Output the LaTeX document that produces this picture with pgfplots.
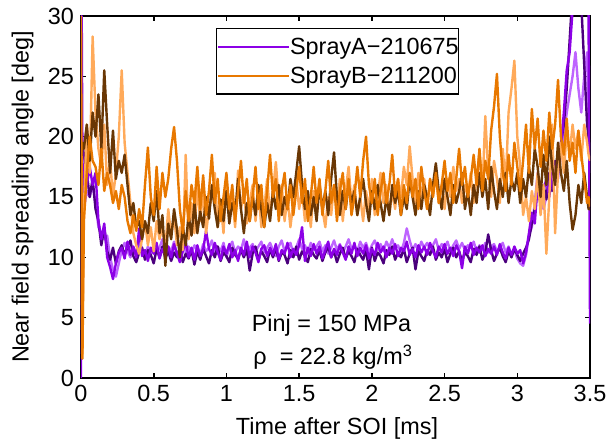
\documentclass[border=0pt]{standalone}
\usepackage{fontspec}
\setmainfont{Liberation Sans}
\usepackage{pgfplots}
\pgfplotsset{compat=1.18}
\usepackage{pgfplotstable}
\definecolor{pdark}{RGB}{75,0,125}
\definecolor{pmid}{RGB}{140,0,230}
\definecolor{plight}{RGB}{190,100,255}
\definecolor{odark}{RGB}{105,55,5}
\definecolor{omid}{RGB}{232,120,0}
\definecolor{olight}{RGB}{255,170,90}
\newcommand{\chartfont}{\fontsize{11.75}{14}\selectfont}

% t  a1 (dark purple)  a2 (purple)  a3 (light purple)  b1 (brown)  b2 (orange)  b3 (light orange)
\pgfplotstableread{
t a1 a2 a3 b1 b2 b3
0.000 5.0 0.0 2.0 10.0 30.0 17.0
0.005 19.0 30.0 13.0 18.0 15.0 8.0
0.010 19.5 18.0 14.0 19.5 1.6 2.0
0.02 18.5 15.0 14.0 19.0 13.0 14.0
0.04 17.0 16.0 15.5 21.0 17.0 21.0
0.06 15.0 17.5 15.0 18.0 20.0 17.0
0.08 16.5 16.0 16.0 22.0 18.0 28.3
0.10 14.0 17.0 14.5 20.0 17.5 22.0
0.12 13.0 13.0 12.5 23.5 16.0 19.0
0.14 11.0 11.5 12.0 19.0 19.0 17.5
0.16 12.5 12.8 11.5 25.5 15.5 21.0
0.18 10.5 10.0 11.8 21.0 17.0 16.0
0.20 9.8 9.2 10.0 17.0 16.0 18.0
0.22 10.8 8.2 9.0 20.5 14.5 15.0
0.24 9.5 9.5 8.4 16.5 15.5 17.0
0.26 10.5 10.4 9.5 18.0 14.0 20.0
0.28 11.0 10.8 10.6 17.0 16.0 25.5
0.30 10.2 9.9 11.2 18.5 15.0 19.5
0.32 10.9 11.3 10.5 16.0 13.0 17.0
0.34 11.4 10.2 10.0 13.5 12.0 14.5
0.36 10.1 10.9 10.8 14.5 13.5 12.0
0.38 9.6 10.0 10.2 12.5 12.2 11.0
0.40 10.4 12.4 11.4 13.0 14.0 10.3
0.42 10.8 10.1 10.6 11.5 12.5 11.5
0.44 9.8 10.6 10.0 13.0 16.0 13.0
0.46 10.6 9.7 10.9 12.0 19.1 11.0
0.48 10.2 10.8 10.3 14.5 15.0 12.5
0.50 9.5 10.3 11.0 13.0 13.5 10.5
0.52 10.7 11.2 10.4 15.5 17.5 13.0
0.54 10.0 9.9 10.8 12.0 14.0 11.5
0.56 10.9 10.7 11.5 13.5 17.0 12.5
0.58 9.9 10.2 10.2 9.3 15.0 10.8
0.60 10.5 10.9 10.9 12.8 16.5 14.0
0.62 9.7 10.0 10.5 11.5 19.0 11.8
0.64 10.4 11.1 11.3 14.0 20.8 13.5
0.66 10.0 10.3 10.1 12.3 18.0 11.0
0.68 10.8 9.6 10.7 10.0 14.0 12.5
0.70 9.6 10.5 12.3 12.5 12.0 10.6
0.72 10.3 11.3 10.4 11.0 15.5 18.5
0.74 9.9 10.0 10.9 13.5 13.0 11.5
0.76 10.6 10.8 10.3 11.8 16.0 14.5
0.78 9.4 9.8 11.0 14.5 14.5 12.0
0.80 10.5 11.0 10.6 12.0 17.5 16.0
0.82 9.8 10.1 10.2 13.8 14.0 13.0
0.84 10.7 10.6 11.1 12.5 16.8 15.5
0.86 10.1 12.2 10.5 15.0 13.5 12.0
0.88 9.5 10.7 10.8 13.2 15.5 14.0
0.90 10.6 10.2 11.4 16.0 18.5 15.0
0.92 10.0 11.2 10.3 14.0 14.5 17.0
0.94 10.9 10.4 10.9 12.5 16.5 12.5
0.96 9.7 9.8 10.5 14.8 13.0 14.5
0.98 10.4 10.9 11.2 13.0 15.0 12.0
1.00 10.1 10.3 10.0 15.5 17.0 16.5
1.02 9.6 11.1 10.8 12.8 14.0 13.5
1.04 10.8 10.0 11.3 14.5 16.0 15.0
1.06 10.2 10.6 10.4 13.5 13.0 12.5
1.08 9.9 9.7 10.9 16.5 15.5 17.2
1.10 10.6 10.8 10.6 14.0 18.0 14.0
1.12 10.0 10.2 11.5 12.0 14.5 15.5
1.14 10.7 11.3 10.2 14.5 16.5 12.8
1.16 8.9 10.0 10.8 13.0 13.0 14.5
1.18 10.3 10.9 11.1 15.0 15.0 16.0
1.20 10.9 10.4 10.5 13.5 17.5 13.0
1.22 9.8 9.6 10.9 16.0 14.0 15.5
1.24 10.5 10.7 11.3 14.0 16.0 12.5
1.26 10.1 11.0 10.4 12.5 12.5 14.0
1.28 9.6 10.1 10.8 14.5 15.5 16.5
1.30 10.7 10.8 11.2 13.0 18.5 13.5
1.32 10.0 10.2 10.6 15.5 15.0 15.5
1.34 10.8 11.1 10.1 14.0 16.5 17.9
1.36 9.7 9.8 10.9 16.0 13.0 14.5
1.38 10.4 10.6 11.4 13.5 15.5 16.0
1.40 10.2 10.3 10.5 15.0 17.0 13.0
1.42 9.5 11.2 10.9 14.0 14.0 15.0
1.44 10.6 10.0 11.2 16.5 16.0 12.5
1.46 10.0 10.7 10.3 15.0 13.5 14.5
1.48 10.9 10.2 10.8 17.0 15.5 16.5
1.50 9.8 11.0 11.5 19.2 17.5 14.0
1.52 10.5 12.5 10.7 16.0 14.5 15.5
1.54 10.1 9.7 11.0 14.0 16.5 13.0
1.56 9.6 10.8 10.4 15.5 13.0 14.8
1.58 10.7 10.1 11.2 13.5 15.0 12.5
1.60 10.2 11.1 10.6 15.0 17.5 15.5
1.62 9.9 10.3 10.9 13.0 14.5 13.5
1.64 10.6 10.9 11.3 16.0 16.5 16.0
1.66 9.7 9.9 10.5 14.0 13.5 14.0
1.68 10.4 10.6 11.0 15.5 15.5 12.5
1.70 10.9 11.3 10.3 13.5 18.0 15.0
1.72 10.0 10.0 10.8 16.5 14.5 13.5
1.74 10.5 10.7 11.4 18.7 16.0 16.0
1.76 9.6 10.2 10.6 15.0 13.0 14.0
1.78 10.3 11.0 11.1 13.5 15.5 16.5
1.80 10.8 10.4 10.4 15.5 17.0 13.0
1.82 9.9 9.8 10.9 14.0 14.0 15.5
1.84 10.5 10.9 11.5 16.0 16.5 17.5
1.86 10.1 10.3 10.7 14.5 13.5 14.5
1.88 9.6 11.2 11.0 15.5 15.0 16.0
1.90 10.7 10.1 10.5 13.5 17.5 13.5
1.92 10.2 10.8 11.3 15.0 15.0 15.0
1.94 9.8 10.3 10.8 16.5 18.0 13.0
1.96 10.6 11.0 11.2 14.5 20.0 15.5
1.98 9.0 9.9 10.4 13.0 16.0 14.0
2.00 10.8 10.7 11.0 15.5 14.5 16.5
2.02 9.7 10.2 11.4 14.0 16.5 13.5
2.04 10.4 11.2 10.6 16.0 13.5 15.0
2.06 10.1 10.4 11.1 14.5 15.5 17.0
2.08 9.5 10.9 10.5 13.0 17.0 14.5
2.10 10.6 10.0 11.3 15.0 14.5 16.0
2.12 10.2 10.8 10.8 13.5 16.0 13.5
2.14 10.9 10.3 11.5 16.0 18.5 15.5
2.16 9.8 11.1 10.7 14.5 15.0 14.0
2.18 10.4 10.1 11.0 15.5 16.5 16.5
2.20 10.0 10.8 10.4 13.5 13.5 15.0
2.22 10.7 10.5 11.2 15.0 16.0 17.5
2.24 9.6 11.3 12.4 14.0 14.5 16.0
2.26 10.3 10.2 11.4 16.5 17.0 19.2
2.28 10.8 10.7 10.6 15.0 15.0 16.5
2.30 9.0 10.0 11.1 13.5 16.5 14.5
2.32 10.5 11.0 10.5 15.5 14.0 17.0
2.34 10.1 10.4 11.3 14.0 17.5 15.0
2.36 9.7 10.9 10.8 16.0 15.5 16.5
2.38 10.6 10.2 11.2 15.0 14.0 14.0
2.40 10.2 11.2 10.7 13.5 16.5 16.5
2.42 10.9 10.5 11.0 16.0 15.0 15.0
2.44 9.8 10.0 11.5 17.8 17.0 17.0
2.46 10.4 10.9 10.6 15.5 14.5 14.5
2.48 10.0 10.4 11.1 14.0 16.0 16.0
2.50 10.7 11.1 10.8 16.5 18.0 14.0
2.52 9.6 10.3 11.3 15.0 15.5 16.5
2.54 10.3 10.8 10.5 13.5 17.0 15.0
2.56 10.8 10.1 11.0 16.0 14.5 17.5
2.58 10.0 11.0 11.4 14.5 16.5 15.5
2.60 10.5 10.5 10.7 15.5 19.0 16.5
2.62 9.7 9.1 11.2 17.0 16.0 14.5
2.64 10.4 10.9 10.6 14.0 17.5 16.0
2.66 10.1 10.3 11.0 15.5 15.0 15.0
2.68 9.6 11.2 10.8 13.5 16.5 17.0
2.70 10.7 10.2 11.3 16.0 18.5 14.5
2.72 10.2 10.8 10.5 14.5 16.0 16.5
2.74 10.9 10.4 11.0 17.0 19.0 18.8
2.76 9.8 11.0 10.6 15.0 15.5 15.5
2.78 10.4 10.1 11.2 16.5 18.0 21.7
2.80 11.9 10.7 10.4 14.0 16.5 17.0
2.82 10.6 10.3 10.9 17.5 20.5 15.0
2.84 9.7 10.9 11.1 15.5 22.5 18.0
2.86 10.3 10.2 10.5 14.0 25.2 16.5
2.88 10.8 11.1 10.8 16.5 20.0 14.5
2.90 10.1 10.4 11.2 15.0 17.0 19.0
2.92 9.6 9.9 10.4 17.0 15.5 16.0
2.94 10.5 10.8 10.9 14.5 18.5 22.0
2.96 10.0 10.2 10.2 16.5 16.0 24.0
2.98 10.7 10.9 10.6 15.5 19.5 26.3
3.00 10.2 10.3 9.9 17.0 17.5 20.0
3.02 9.7 10.6 9.5 14.5 15.5 17.5
3.04 10.3 9.5 9.3 16.5 18.0 13.5
3.06 10.8 10.4 10.2 15.0 21.0 15.0
3.08 11.5 12.0 11.8 17.5 17.0 13.0
3.10 12.8 13.7 12.5 16.0 22.3 15.5
3.12 14.0 12.8 14.5 19.0 19.0 14.0
3.14 15.5 16.0 17.0 17.5 21.5 17.0
3.16 14.5 14.8 15.5 15.0 17.5 13.5
3.18 16.0 15.5 14.0 18.5 20.5 16.0
3.20 14.8 16.5 15.0 16.0 18.0 10.3
3.22 17.0 15.0 16.5 20.0 22.0 15.0
3.24 15.5 17.0 18.0 17.5 19.0 21.0
3.26 18.0 16.5 17.5 16.0 21.0 12.0
3.28 17.0 18.5 16.5 19.5 24.7 17.0
3.30 19.5 19.0 18.5 17.0 20.0 19.5
3.32 21.0 22.0 20.0 15.5 18.5 17.0
3.34 24.0 25.5 22.0 18.0 21.5 20.5
3.36 28.0 27.0 23.5 14.5 18.0 18.5
3.38 32.0 30.5 25.0 12.3 19.5 21.0
3.40 34.0 33.0 27.0 13.5 17.0 19.0
3.42 33.0 31.0 24.0 16.0 20.5 20.5
3.44 31.0 34.0 22.0 14.5 18.5 18.0
3.46 26.0 33.0 25.0 17.0 16.5 21.0
3.48 21.0 32.0 27.0 15.0 14.5 19.5
3.49 20.0 30.0 20.0 14.0 15.0 18.5
3.50 19.0 4.5 17.0 14.0 14.2 18.0
}\spraydata

\begin{document}
\begin{tikzpicture}
\begin{axis}[
    scale only axis,
    width=254.5bp, height=181bp,
    xmin=0, xmax=3.5,
    ymin=0, ymax=30,
    xtick={0,0.5,1,1.5,2,2.5,3,3.5},
    ytick={0,5,10,15,20,25,30},
    tick align=inside,
    major tick length=2.5bp,
    axis line style={line width=1.1bp},
    tick style={line width=0.8bp, black},
    font=\chartfont,
    tick label style={font=\chartfont},
    /pgf/number format/assume math mode=true,
    xlabel={Time after SOI [ms]},
    ylabel={Near field spreading angle [deg]},
    xlabel style={at={(axis description cs:0.503,-0.1547)}, anchor=base},
    ylabel style={at={(axis description cs:-0.1149,0.5)}, anchor=center},
    every axis plot/.append style={line width=1.2bp, line join=round},
    legend style={
        at={(0.2652,0.9669)}, anchor=north west,
        draw=black, line width=0.7bp,
        font=\chartfont,
        inner xsep=0bp, inner ysep=2.3bp,
        row sep=1bp,
        nodes={inner sep=0bp, text height=10.5bp, text depth=3bp},
    },
    legend cell align=left,
    legend image code/.code={
        \path (0bp,0bp) -- (35.5bp,0bp);
        \draw[#1] (5bp,0bp) -- (28bp,0bp);
    },
]
\addlegendimage{pmid, line width=1.2bp}
\addlegendentry{SprayA−210675\hspace{0.5bp}}
\addlegendimage{omid, line width=1.2bp}
\addlegendentry{SprayB−211200\hspace{0.5bp}}

\addplot[plight, forget plot] table[x=t, y=a3] {\spraydata};
\addplot[pdark, forget plot] table[x=t, y=a1] {\spraydata};
\addplot[pmid, forget plot] table[x=t, y=a2] {\spraydata};
\addplot[olight, forget plot] table[x=t, y=b3] {\spraydata};
\addplot[odark, forget plot] table[x=t, y=b1] {\spraydata};
\addplot[omid, forget plot] table[x=t, y=b2] {\spraydata};

\node[anchor=base, font=\chartfont] at (axis cs:1.723,3.84) {Pinj = 150 MPa};
\node[anchor=base, font=\chartfont] at (axis cs:1.734,1.08) {ρ\ \ = 22.8 kg/m\textsuperscript{3}};

\coordinate (bbsw) at (rel axis cs:-0.1591,-0.1823);
\coordinate (bbne) at (rel axis cs:1.0314,1.0442);
\end{axis}
\pgfresetboundingbox
\useasboundingbox (bbsw) rectangle (bbne);
\end{tikzpicture}
\end{document}
